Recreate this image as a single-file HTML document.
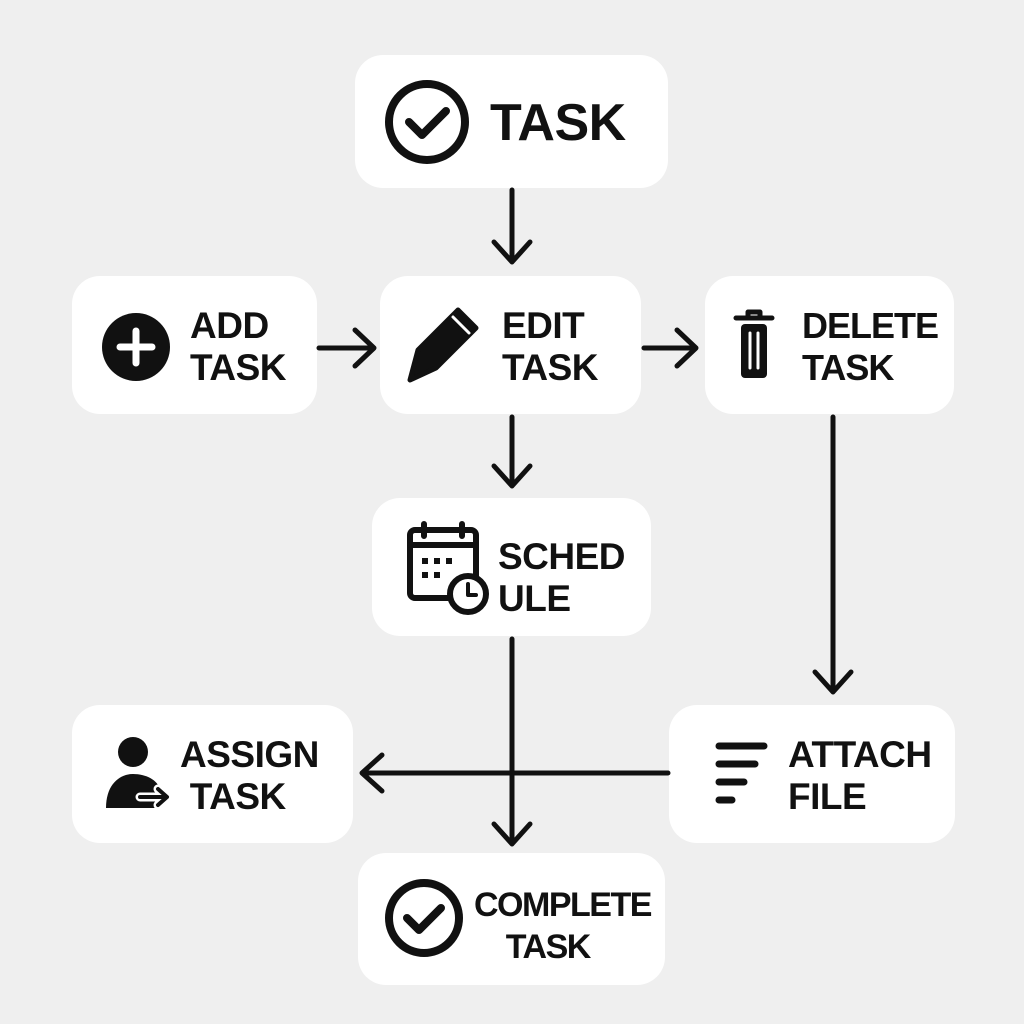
<!DOCTYPE html>
<html><head><meta charset="utf-8"><style>
html,body{margin:0;padding:0;background:#efefef;}
body{width:1024px;height:1024px;position:relative;overflow:hidden;font-family:"Liberation Sans",sans-serif;}
.b{position:absolute;background:#fff;border-radius:28px;}
.t{position:absolute;font-weight:bold;color:#111;font-size:37px;line-height:42px;letter-spacing:-0.5px;}
svg{position:absolute;left:0;top:0;}
</style></head><body>
<div class="b" style="left:355px;top:55px;width:313px;height:133px"></div>
<div class="b" style="left:72px;top:276px;width:245px;height:138px"></div>
<div class="b" style="left:380px;top:276px;width:261px;height:138px"></div>
<div class="b" style="left:705px;top:276px;width:249px;height:138px"></div>
<div class="b" style="left:372px;top:498px;width:279px;height:138px"></div>
<div class="b" style="left:72px;top:705px;width:281px;height:138px"></div>
<div class="b" style="left:669px;top:705px;width:286px;height:138px"></div>
<div class="b" style="left:358px;top:853px;width:307px;height:132px"></div>

<div class="t" style="left:490px;top:95px;font-size:52px;line-height:56px">TASK</div>
<div class="t" style="left:190px;top:305px">ADD<br>TASK</div>
<div class="t" style="left:502px;top:305px">EDIT<br>TASK</div>
<div class="t" style="left:802px;top:305px;font-size:36px;letter-spacing:-1px">DELETE<br>TASK</div>
<div class="t" style="left:498px;top:536px">SCHED<br>ULE</div>
<div class="t" style="left:180px;top:734px">ASSIGN<br>&nbsp;TASK</div>
<div class="t" style="left:788px;top:734px">ATTACH<br>FILE</div>
<div class="t" style="left:474px;top:884px;font-size:34px;letter-spacing:-1.5px">COMPLETE<br>&nbsp;&nbsp;&nbsp;&nbsp;TASK</div>

<svg width="1024" height="1024" viewBox="0 0 1024 1024" fill="none" stroke="#111" stroke-width="5" stroke-linecap="round" stroke-linejoin="round">
<path d="M512 190V260M494 242L512 262L530 242"/>
<path d="M319 348H372M355 330L374 348L355 366"/>
<path d="M644 348H694M677 330L696 348L677 366"/>
<path d="M512 417V484M494 466L512 486L530 466"/>
<path d="M833 417V690M815 672L833 692L851 672"/>
<path d="M512 639V842M494 824L512 844L530 824"/>
<path d="M668 773H364M382 755L362 773L382 791"/>
<circle cx="427" cy="122" r="38" stroke-width="8"/>
<path d="M409 122L422 135L446 111" stroke-width="8"/>
<circle cx="424" cy="918" r="35" stroke-width="8"/>
<path d="M407 918L419 930L441 908" stroke-width="8"/>
<circle cx="136" cy="347" r="34" fill="#111" stroke="none"/>
<path d="M136 331V363M120 347H152" stroke="#fff" stroke-width="7"/>
<path d="M410 380L418 350L458 310L476 328L436 368Z" fill="#111" stroke-width="5"/>
<path d="M453 317L469 333" stroke="#fff" stroke-width="3"/>
<path d="M736 318H772M748 318V312H760V318" stroke-width="5"/>
<rect x="741" y="324" width="26" height="54" rx="4" fill="#111" stroke="none"/>
<path d="M750 333V368M758 333V368" stroke="#fff" stroke-width="3"/>
<rect x="410" y="530" width="66" height="68" rx="5" stroke-width="6"/>
<path d="M410 545H476M424 524V536M462 524V536" stroke-width="6"/>
<g fill="#111" stroke="none"><rect x="422" y="558" width="6" height="6"/><rect x="434" y="558" width="6" height="6"/><rect x="446" y="558" width="6" height="6"/><rect x="422" y="572" width="6" height="6"/><rect x="434" y="572" width="6" height="6"/></g>
<circle cx="468" cy="594" r="18" fill="#fff" stroke-width="6"/>
<path d="M468 584V595H476" stroke-width="4"/>
<circle cx="133" cy="752" r="15" fill="#111" stroke="none"/>
<path d="M106 808C106 784 120 774 133 774C146 774 158 780 160 790V808Z" fill="#111" stroke="none"/>
<path d="M140 797H166M158 789L167 797L158 805" stroke="#fff" stroke-width="9"/>
<path d="M140 797H166M158 789L167 797L158 805" stroke-width="4"/>
<path d="M719 746H764M719 764H755M719 782H744M719 800H732" stroke-width="7"/>
</svg>
</body></html>
